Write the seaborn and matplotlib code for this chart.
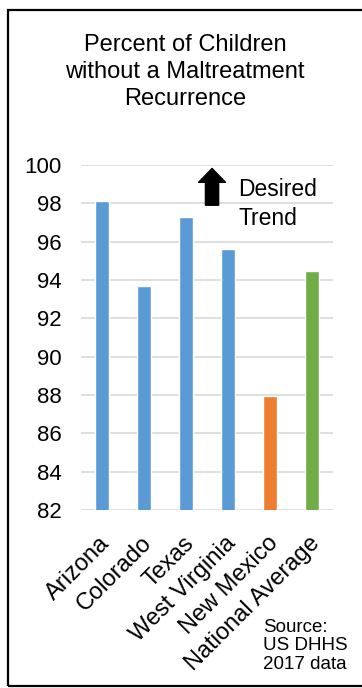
import matplotlib
matplotlib.use("Agg")
import matplotlib.pyplot as plt
import seaborn as sns
from matplotlib.patches import Rectangle
from matplotlib.transforms import ScaledTranslation

# --- Dados ---
estados = ['Arizona', 'Colorado', 'Texas', 'West Virginia', 'New Mexico', 'National Average']
valores = [98.1, 93.7, 97.3, 95.6, 87.95, 94.45]
cores = ['#5B9BD5', '#5B9BD5', '#5B9BD5', '#5B9BD5', '#ED7D31', '#70AD47']
y_ticks = [82, 84, 86, 88, 90, 92, 94, 96, 98, 100]

titulo = 'Percent of Children\nwithout a Maltreatment\nRecurrence'
fonte = 'Source:\nUS DHHS\n2017 data'

sns.set_theme(style="white")
plt.rcParams['font.family'] = ['Liberation Sans', 'DejaVu Sans']

fig = plt.figure(figsize=(3.62, 6.88), dpi=100)
ax = fig.add_axes([81 / 362, 1 - 510 / 688, 252 / 362, 345 / 688])

sns.barplot(x=estados, y=valores, hue=estados, palette=cores, width=0.35,
            legend=False, ax=ax, saturation=1)

ax.set_ylim(82, 100)
ax.set_xlim(-0.5, 5.5)
ax.set_yticks(y_ticks)
ax.set_yticklabels([str(t) for t in y_ticks], fontsize=16, color='black')
ax.yaxis.grid(True, color='#D9D9D9', linewidth=1.2)
ax.set_axisbelow(True)
for s in ax.spines.values():
    s.set_visible(False)
ax.tick_params(axis='y', length=0, pad=14)
ax.tick_params(axis='x', length=0, pad=16)
ax.set_xticks(range(len(estados)))
ax.set_xticklabels(estados, rotation=45, ha='right', rotation_mode='anchor',
                   fontsize=17, color='black')
# leve deslocamento para a esquerda dos rotulos
desloc = ScaledTranslation(-3 / 100, 0, fig.dpi_scale_trans)
for lbl in ax.get_xticklabels():
    lbl.set_transform(lbl.get_transform() + desloc)
ax.set_xlabel('')
ax.set_ylabel('')

# seta "Desired Trend"
ax.annotate('', xy=(2.62, 99.82), xytext=(2.62, 97.9),
            arrowprops=dict(arrowstyle='simple,head_width=1.95,head_length=1.0,tail_width=0.95',
                            color='black', mutation_scale=10, shrinkA=0, shrinkB=0))
ax.text(3.24, 97.97, 'Desired\nTrend', ha='left', va='center', fontsize=16.5,
        color='black', linespacing=1.35)

fig.text(0.511, 1 - 72 / 688, titulo, ha='center', va='center', fontsize=17,
         color='black', linespacing=1.32)
fig.text(263 / 362, 1 - 646 / 688, fonte, ha='left', va='center', fontsize=13.5,
         color='black', linespacing=1.12)

fig.add_artist(Rectangle((7.5 / 362, 1 - 686 / 688), 360 / 362, 676 / 688,
                         transform=fig.transFigure, fill=False, edgecolor='black',
                         linewidth=1.6))

fig.savefig('out.png', dpi=100)
